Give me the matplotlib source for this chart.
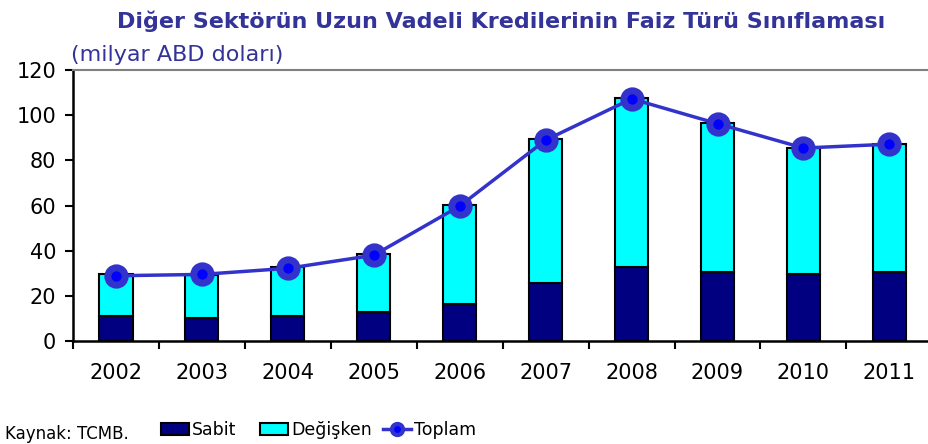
import numpy as np
import matplotlib.pyplot as plt
from matplotlib.patches import Patch
from matplotlib.lines import Line2D

years = ["2002", "2003", "2004", "2005", "2006", "2007", "2008", "2009", "2010", "2011"]
sabit = [11.1, 10.3, 11.1, 13.0, 16.2, 25.5, 32.9, 30.4, 29.5, 30.4]
degisken_top = [29.5, 29.2, 32.9, 38.5, 60.2, 89.3, 107.5, 96.7, 85.7, 87.5]
toplam = [28.9, 29.5, 32.2, 38.0, 59.8, 89.0, 107.3, 96.3, 85.5, 87.2]
degisken = [t - s for t, s in zip(degisken_top, sabit)]

title_color = "#333399"
font = "DejaVu Sans"

fig = plt.figure(figsize=(9.29, 4.44), dpi=100)
ax = fig.add_axes([0.0786, 0.232, 0.925, 0.610])

x = np.arange(len(years))
w = 0.385
ax.bar(x, sabit, w, color="#000080", edgecolor="black", linewidth=1.5, zorder=2)
ax.bar(x, degisken, w, bottom=sabit, color="#00FFFF", edgecolor="black", linewidth=1.5, zorder=2)
ax.plot(x, toplam, color="#3333CC", linewidth=2.5, marker="o", markersize=12.5,
        markerfacecolor="#0000FF", markeredgecolor="#3333CC", markeredgewidth=5,
        zorder=3)

ax.set_xlim(-0.5, 9.5)
ax.set_ylim(0, 120)
ax.set_yticks(range(0, 121, 20))
ax.set_xticks(x)
ax.set_xticklabels(years)
ax.set_xticks(np.arange(-0.5, 10, 1), minor=True)
ax.tick_params(axis="x", which="major", length=0, pad=16, labelsize=15)
ax.tick_params(axis="x", which="minor", length=6, width=1.5, direction="out")
ax.tick_params(axis="y", length=6, width=1.5, direction="out", labelsize=15, pad=6)

for side in ["left", "bottom"]:
    ax.spines[side].set_linewidth(1.8)
ax.spines["right"].set_visible(False)
ax.spines["top"].set_color("#808080")
ax.spines["top"].set_linewidth(1.5)

fig.text(0.126, 0.938, "Diğer Sektörün Uzun Vadeli Kredilerinin Faiz Türü Sınıflaması",
         color=title_color, fontsize=16, fontweight="bold", family=font)
fig.text(0.076, 0.862, "(milyar ABD doları)", color=title_color, fontsize=16, family=font)
fig.text(0.005, 0.012, "Kaynak: TCMB.", fontsize=12, family=font)

# legend entries placed one by one to match the compact reference layout
entries = [
    (Patch(facecolor="#000080", edgecolor="black", linewidth=1.5), "Sabit", 161),
    (Patch(facecolor="#00FFFF", edgecolor="black", linewidth=1.5), "Değişken", 260),
    (Line2D([], [], color="#3333CC", linewidth=2.5, marker="o", markersize=8,
            markerfacecolor="#0000FF", markeredgecolor="#3333CC", markeredgewidth=3),
     "Toplam", 383),
]
for handle, label, px in entries:
    leg = fig.legend([handle], [label], loc="center left",
                     bbox_to_anchor=(px / 929, 1 - 430 / 444), frameon=False,
                     fontsize=12.5, handlelength=1.6, handletextpad=0.2,
                     borderpad=0, borderaxespad=0)

fig.savefig("out.png", dpi=100)
